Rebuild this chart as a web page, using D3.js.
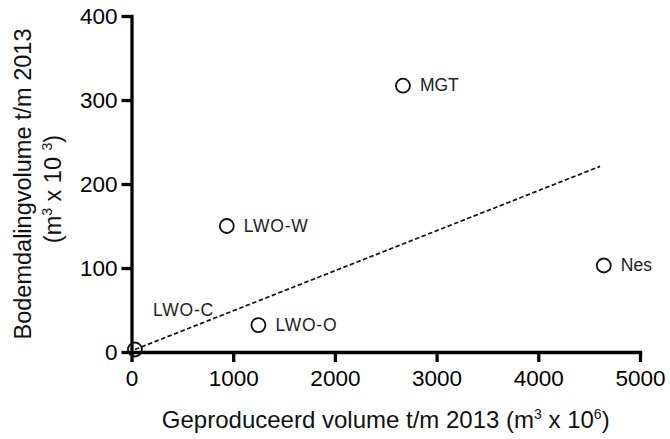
<!DOCTYPE html>
<html>
<head>
<meta charset="utf-8">
<script src="https://d3js.org/d3.v7.min.js"></script>
<style>
  body { margin: 0; background: #fff; }
  svg { font-family: "Liberation Sans", Arial, sans-serif; }
</style>
</head>
<body>
<script>
    const w = 670
    const h = 439

    // data
    const names = ["LWO-C", "LWO-W", "LWO-O", "MGT", "Nes"]
    const produced = [34, 937, 1248, 2669, 4644]      // m3 x 10^6
    const subsidence = [3, 150, 32, 317, 103]          // m3 x 10^3
    const xTicks = [0, 1000, 2000, 3000, 4000, 5000]
    const yTicks = [0, 100, 200, 300, 400]
    // dashed trend line, start and end in data units
    const trendX = [34, 4607]
    const trendY = [3, 221]

    const points = names.map((n, i) => ({ name: n, x: produced[i], y: subsidence[i] }))

    const x = d3.scaleLinear().domain([0, 5000]).range([131.5, 640])
    const y = d3.scaleLinear().domain([0, 400]).range([352, 16])

    const svg = d3.select("body").append("svg")
        .attr("width", w)
        .attr("height", h)

    svg.append("rect").attr("width", w).attr("height", h).attr("fill", "#fff")

    // axes
    const xAxis = svg.append("g")
        .attr("transform", `translate(0,${y(0)})`)
        .call(d3.axisBottom(x).tickValues(xTicks).tickFormat(d3.format("d"))
            .tickSize(10).tickSizeOuter(0).tickPadding(8))
    const yAxis = svg.append("g")
        .attr("transform", `translate(${x(0)},0)`)
        .call(d3.axisLeft(y).tickValues(yTicks).tickFormat(d3.format("d"))
            .tickSize(10).tickSizeOuter(0).tickPadding(4))

    for (const g of [xAxis, yAxis]) {
        g.select(".domain").attr("stroke", "#000").attr("stroke-width", 3.3).attr("stroke-linecap", "square")
        g.selectAll(".tick line").attr("stroke", "#000").attr("stroke-width", 3.3)
        g.selectAll(".tick text").attr("fill", "#000").attr("font-size", 22.5)
            .attr("font-family", "'Liberation Sans', Arial, sans-serif")
    }

    // trend line
    svg.append("line")
        .attr("x1", x(trendX[0])).attr("y1", y(trendY[0]))
        .attr("x2", x(trendX[1])).attr("y2", y(trendY[1]))
        .attr("stroke", "#111")
        .attr("stroke-width", 1.7)
        .attr("stroke-dasharray", "4.5,2.5")

    // points
    svg.selectAll(".pt")
        .data(points)
        .enter()
        .append("circle")
        .attr("class", "pt")
        .attr("cx", d => x(d.x))
        .attr("cy", d => y(d.y))
        .attr("r", 7)
        .attr("fill", "none")
        .attr("stroke", "#111")
        .attr("stroke-width", 1.8)

    // labels, LWO-C sits up and to the right of its point
    svg.selectAll(".lbl")
        .data(points)
        .enter()
        .append("text")
        .attr("class", "lbl")
        .attr("x", d => d.name == "LWO-C" ? x(d.x) + 18 : x(d.x) + 17)
        .attr("y", d => d.name == "LWO-C" ? y(d.y) - 33 : y(d.y) + 5.5)
        .attr("font-size", 17.5)
        .attr("letter-spacing", d => d.name.startsWith("LWO") ? 0.8 : 0)
        .attr("fill", "#222")
        .text(d => d.name)

    // axis titles
    const xt = svg.append("text")
        .attr("x", (x(0) + x(5000)) / 2)
        .attr("y", 428)
        .attr("text-anchor", "middle")
        .attr("font-size", 24)
        .attr("fill", "#111")
    xt.append("tspan").text("Geproduceerd volume t/m 2013 (m")
    xt.append("tspan").attr("dy", -9).attr("font-size", 14).text("3")
    xt.append("tspan").attr("dy", 9).text(" x 10")
    xt.append("tspan").attr("dy", -9).attr("font-size", 14).text("6")
    xt.append("tspan").attr("dy", 9).text(")")

    const yMid = (y(0) + y(400)) / 2
    svg.append("text")
        .attr("transform", `translate(31,${yMid}) rotate(-90)`)
        .attr("text-anchor", "middle")
        .attr("font-size", 23.5)
        .attr("fill", "#111")
        .text("Bodemdalingvolume t/m 2013")

    const yt2 = svg.append("text")
        .attr("transform", `translate(61,${yMid + 5}) rotate(-90)`)
        .attr("text-anchor", "middle")
        .attr("font-size", 23.5)
        .attr("fill", "#111")
    yt2.append("tspan").text("(m")
    yt2.append("tspan").attr("dy", -9).attr("font-size", 14).text("3")
    yt2.append("tspan").attr("dy", 9).text(" x 10 ")
    yt2.append("tspan").attr("dy", -9).attr("font-size", 14).text("3")
    yt2.append("tspan").attr("dy", 9).text(")")
</script>
</body>
</html>
